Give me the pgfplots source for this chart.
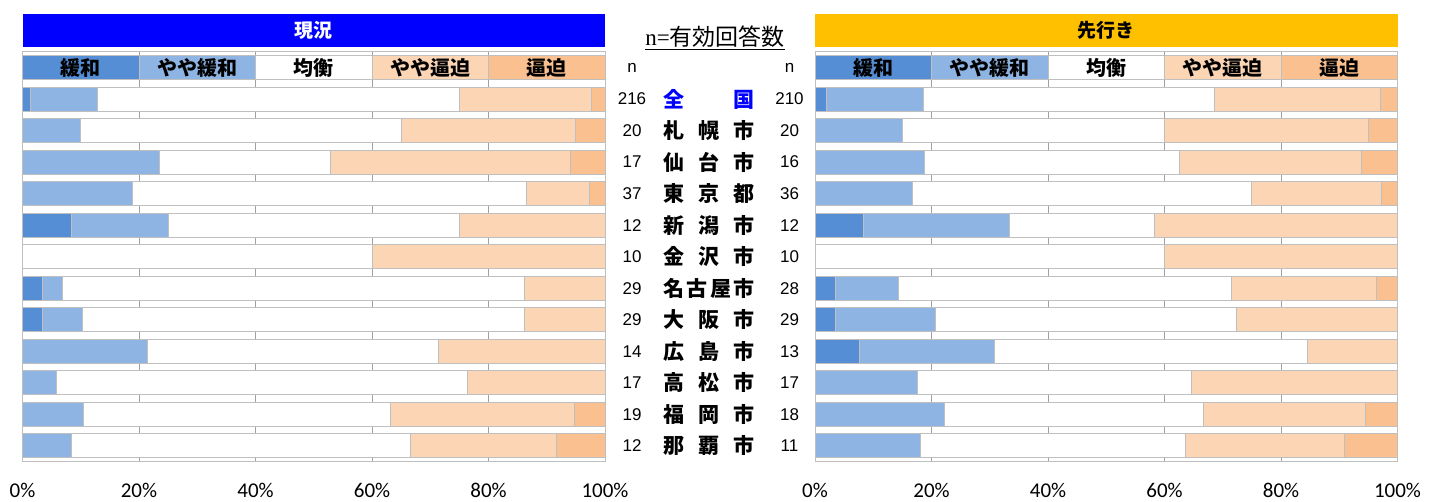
\documentclass[border=0pt]{standalone}
\usepackage{pgfplots}
\pgfplotsset{compat=1.18}
\usepackage{pgfplotstable}
\usepackage{fontspec}
\setmainfont{Carlito}
\newfontfamily\jp{Noto Sans CJK JP}
\newfontfamily\arial{Liberation Sans}
\newfontfamily\tnr{Liberation Serif}
\definecolor{cA}{HTML}{558ED5}
\definecolor{cB}{HTML}{8EB4E3}
\definecolor{cC}{HTML}{FFFFFF}
\definecolor{cD}{HTML}{FCD5B5}
\definecolor{cE}{HTML}{FAC090}
\definecolor{bord}{HTML}{BFBFBF}
\definecolor{gridc}{HTML}{A0A0A0}
\definecolor{hblue}{HTML}{0000FF}
\definecolor{hyel}{HTML}{FFC000}

% y: 12 = header row, 11 = 全国 ... 0 = 那覇
\pgfplotstableread{
y k1 k2 k3 k4 k5
12 20 20 20 20 20
11 1.39 11.57 62.04 22.69 2.31
10 0 10 55 30 5
9 0 23.53 29.41 41.18 5.88
8 0 18.92 67.57 10.81 2.70
7 8.33 16.67 50 25 0
6 0 0 60 40 0
5 3.45 3.45 79.31 13.79 0
4 3.45 6.90 75.86 13.79 0
3 0 21.43 50 28.57 0
2 0 5.88 70.59 23.53 0
1 0 10.53 52.63 31.58 5.26
0 0 8.33 58.33 25 8.34
}\now

\pgfplotstableread{
y k1 k2 k3 k4 k5
12 20 20 20 20 20
11 1.90 16.67 50 28.57 2.86
10 0 15 45 35 5
9 0 18.75 43.75 31.25 6.25
8 0 16.67 58.33 22.22 2.78
7 8.33 25 25 41.67 0
6 0 0 60 40 0
5 3.57 10.71 57.14 25 3.58
4 3.45 17.24 51.72 27.59 0
3 7.69 23.08 53.85 15.38 0
2 0 17.65 47.06 35.29 0
1 0 22.22 44.44 27.78 5.56
0 0 18.18 45.45 27.27 9.10
}\fut

\tikzset{hdr/.style={font=\jp\bfseries\fontsize{20}{20}\selectfont}}
\newcommand{\hdrlab}{%
  \node[hdr] at (axis cs:10,12) {緩和};
  \node[hdr] at (axis cs:30,12) {やや緩和};
  \node[hdr] at (axis cs:50,12) {均衡};
  \node[hdr] at (axis cs:70,12) {やや逼迫};
  \node[hdr] at (axis cs:90,12) {逼迫};
}

\pgfplotsset{
  barchart/.style={
    anchor=south west,
    scale only axis, width=582.5pt, height=410pt,
    xbar stacked, bar width=24pt,
    xmin=0, xmax=100, ymin=-0.5, ymax=12.5,
    xtick={0,20,40,60,80,100}, ytick=\empty,
    xmajorgrids, grid style={draw=gridc, line width=0.8pt},
    axis line style={draw=bord, line width=0.8pt},
    major tick length=0pt,
    clip=false,
    /pgf/number format/assume math mode=true,
    xticklabel={\pgfmathprintnumber{\tick}\%},
    xticklabel style={font=\fontsize{21}{21}\selectfont, anchor=base, yshift=-36pt},
    every axis plot/.append style={draw=bord, line width=1pt},
    after end axis/.code={\hdrlab},
  },
}

\newcommand{\rowlab}[4]{%
  \node[font=\arial\fontsize{17}{17}\selectfont, xshift=27pt] at (axis cs:100,#1) {#2};
  \node[font=\jp\bfseries\fontsize{21}{21}\selectfont, xshift=104pt] at (axis cs:100,#1) {\makebox[92pt][s]{#3}};
  \node[font=\arial\fontsize{17}{17}\selectfont, xshift=184.5pt] at (axis cs:100,#1) {#4};
}

\begin{document}
\begin{tikzpicture}
\useasboundingbox (0pt,0pt) rectangle (1437pt,501pt);

% header bands
\fill[hblue] (22.5pt,454pt) rectangle (605pt,487pt);
\node[font=\jp\bfseries\fontsize{19}{19}\selectfont, text=white] at (313.75pt,470.5pt) {現況};
\fill[hyel] (815pt,454pt) rectangle (1397.5pt,487pt);
\node[font=\jp\bfseries\fontsize{19}{19}\selectfont, text=black] at (1106.25pt,470.5pt) {先行き};

\node[inner sep=0pt] at (715pt,463pt) {\underline{{\tnr\fontsize{23}{23}\selectfont n=}{\jp\fontsize{23}{23}\selectfont 有効回答数}}};

\begin{axis}[barchart, at={(22.5pt,39.3pt)}]
\addplot[fill=cA] table[x=k1,y=y] {\now};
\addplot[fill=cB] table[x=k2,y=y] {\now};
\addplot[fill=cC] table[x=k3,y=y] {\now};
\addplot[fill=cD] table[x=k4,y=y] {\now};
\addplot[fill=cE] table[x=k5,y=y] {\now};
\rowlab{12}{n}{}{n}
\rowlab{11}{216}{\color{hblue}全\hfill 国}{210}
\rowlab{10}{20}{札\hfill 幌\hfill 市}{20}
\rowlab{9}{17}{仙\hfill 台\hfill 市}{16}
\rowlab{8}{37}{東\hfill 京\hfill 都}{36}
\rowlab{7}{12}{新\hfill 潟\hfill 市}{12}
\rowlab{6}{10}{金\hfill 沢\hfill 市}{10}
\rowlab{5}{29}{名\hfill 古\hfill 屋\hfill 市}{28}
\rowlab{4}{29}{大\hfill 阪\hfill 市}{29}
\rowlab{3}{14}{広\hfill 島\hfill 市}{13}
\rowlab{2}{17}{高\hfill 松\hfill 市}{17}
\rowlab{1}{19}{福\hfill 岡\hfill 市}{18}
\rowlab{0}{12}{那\hfill 覇\hfill 市}{11}
\end{axis}

\begin{axis}[barchart, at={(815pt,39.3pt)}]
\addplot[fill=cA] table[x=k1,y=y] {\fut};
\addplot[fill=cB] table[x=k2,y=y] {\fut};
\addplot[fill=cC] table[x=k3,y=y] {\fut};
\addplot[fill=cD] table[x=k4,y=y] {\fut};
\addplot[fill=cE] table[x=k5,y=y] {\fut};
\end{axis}
\end{tikzpicture}
\end{document}
